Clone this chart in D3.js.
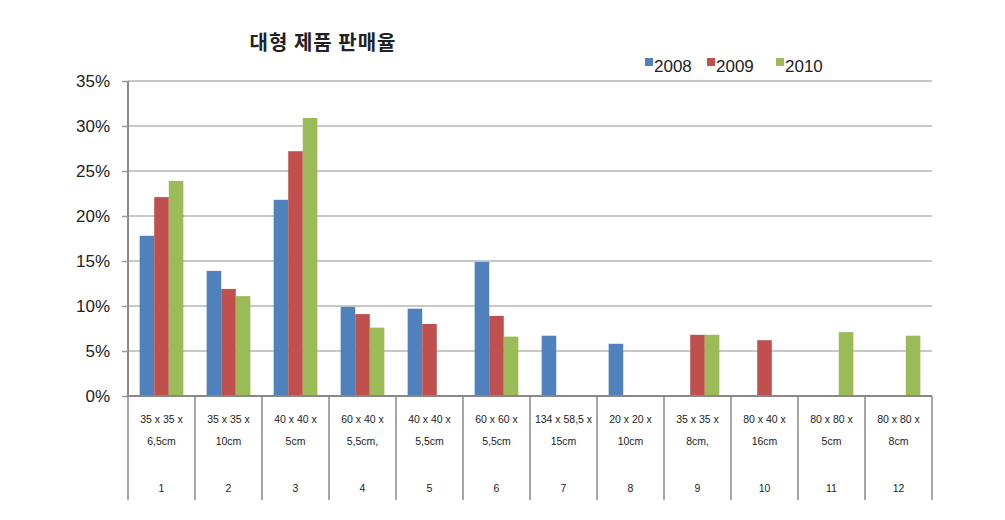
<!DOCTYPE html>
<html>
<head>
<meta charset="utf-8">
<script src="https://cdn.jsdelivr.net/npm/d3@7"></script>
<style>
  body { margin: 0; background: #fff; }
  text { font-family: "Liberation Sans", "Noto Sans CJK KR", sans-serif; fill: #222; }
</style>
</head>
<body>
<div id="chart"></div>
<script>
var sizes = ["35 x 35 x|6,5cm", "35 x 35 x|10cm", "40 x 40 x|5cm", "60 x 40 x|5,5cm,", "40 x 40 x|5,5cm", "60 x 60 x|5,5cm",
             "134 x 58,5 x|15cm", "20 x 20 x|10cm", "35 x 35 x|8cm,", "80 x 40 x|16cm", "80 x 80 x|5cm", "80 x 80 x|8cm"];
var numbers = ["1", "2", "3", "4", "5", "6", "7", "8", "9", "10", "11", "12"];
var years = ["2008", "2009", "2010"];
var colors = ["#4f81bd", "#c0504d", "#9bbb59"];
var values2008 = [17.8, 13.9, 21.8, 9.9, 9.7, 14.9, 6.7, 5.8, 0, 0, 0, 0];
var values2009 = [22.1, 11.9, 27.2, 9.1, 8.0, 8.9, 0, 0, 6.8, 6.2, 0, 0];
var values2010 = [23.9, 11.1, 30.9, 7.6, 0, 6.6, 0, 0, 6.8, 0, 7.1, 6.7];
var yTicks = [0, 5, 10, 15, 20, 25, 30, 35];

var series = [values2008, values2009, values2010];

var margin = { top: 81, right: 73, bottom: 124, left: 128 };
var width = 1005 - margin.left - margin.right,
    height = 520 - margin.top - margin.bottom;

var svg = d3.select("#chart").append("svg")
    .attr("width", 1005)
    .attr("height", 520);

var g = svg.append("g")
    .attr("transform", "translate(" + margin.left + "," + margin.top + ")");

var x = d3.scaleBand()
    .domain(numbers)
    .range([0, width])
    .paddingInner(0)
    .paddingOuter(0);

var x1 = d3.scaleBand()
    .domain(years)
    .range([0, x.bandwidth()])
    .paddingInner(0)
    .paddingOuter(0.8);

var y = d3.scaleLinear()
    .domain([0, 35])
    .range([height, 0]);

// gridlines
g.selectAll(".grid")
    .data(yTicks.slice(1))
    .enter().append("line")
    .attr("class", "grid")
    .attr("x1", 0)
    .attr("x2", width)
    .attr("y1", function(d){ return y(d); })
    .attr("y2", function(d){ return y(d); })
    .attr("stroke", "#c8c8c8")
    .attr("stroke-width", 2);

// bars
var groups = g.selectAll(".cat")
    .data(numbers)
    .enter().append("g")
    .attr("transform", function(d){ return "translate(" + x(d) + ",0)"; });

groups.selectAll("rect")
    .data(function(d, i){
        return years.map(function(yr, j){ return { year: yr, v: series[j][i], c: colors[j] }; })
            .filter(function(e){ return e.v > 0; });
    })
    .enter().append("rect")
    .attr("x", function(d){ return x1(d.year); })
    .attr("width", x1.bandwidth())
    .attr("y", function(d){ return y(d.v); })
    .attr("height", function(d){ return height - y(d.v); })
    .attr("fill", function(d){ return d.c; });

// y axis
var yAxis = d3.axisLeft(y)
    .tickValues(yTicks)
    .tickSize(6)
    .tickPadding(12)
    .tickFormat(function(d){ return d + "%"; });

var ya = g.append("g").call(yAxis);
ya.select(".domain").attr("stroke", "#888").attr("stroke-width", 2).attr("d", "M0," + height + "V0");
ya.selectAll(".tick line").attr("stroke", "#999").attr("stroke-width", 1.5);
ya.selectAll(".tick text").style("font-size", "17px").attr("fill", "#222");

// x axis base line
g.append("line")
    .attr("x1", 0).attr("x2", width)
    .attr("y1", height).attr("y2", height)
    .attr("stroke", "#888").attr("stroke-width", 2);

// category separators
var seps = numbers.map(function(d){ return x(d); }).concat([width]);
g.selectAll(".sep")
    .data(seps)
    .enter().append("line")
    .attr("x1", function(d){ return d; })
    .attr("x2", function(d){ return d; })
    .attr("y1", height)
    .attr("y2", height + 104)
    .attr("stroke", "#888")
    .attr("stroke-width", 1.5);

// category labels
var labs = g.selectAll(".lab")
    .data(numbers)
    .enter().append("g")
    .attr("transform", function(d){ return "translate(" + (x(d) + x.bandwidth() / 2) + "," + height + ")"; });

labs.append("text")
    .attr("text-anchor", "middle")
    .attr("y", 27)
    .style("font-size", "10.5px")
    .text(function(d, i){ return sizes[i].split("|")[0]; });

labs.append("text")
    .attr("text-anchor", "middle")
    .attr("y", 49)
    .style("font-size", "10.5px")
    .text(function(d, i){ return sizes[i].split("|")[1]; });

labs.append("text")
    .attr("text-anchor", "middle")
    .attr("y", 96)
    .style("font-size", "10.5px")
    .text(function(d){ return d; });

// title
svg.append("text")
    .attr("x", 323)
    .attr("y", 50)
    .attr("text-anchor", "middle")
    .style("font-size", "20px")
    .style("font-weight", "bold")
    .style("letter-spacing", "1px")
    .style("font-family", "'Noto Sans CJK KR', sans-serif")
    .text("대형 제품 판매율");

// legend
var legX = [645, 707, 776];
var leg = svg.selectAll(".leg")
    .data(years)
    .enter().append("g")
    .attr("transform", function(d, i){ return "translate(" + legX[i] + ",58)"; });

leg.append("rect")
    .attr("width", 8).attr("height", 8)
    .attr("fill", function(d, i){ return colors[i]; });

leg.append("text")
    .attr("x", 9)
    .attr("y", 14)
    .style("font-size", "17px")
    .text(function(d){ return d; });
</script>
</body>
</html>
